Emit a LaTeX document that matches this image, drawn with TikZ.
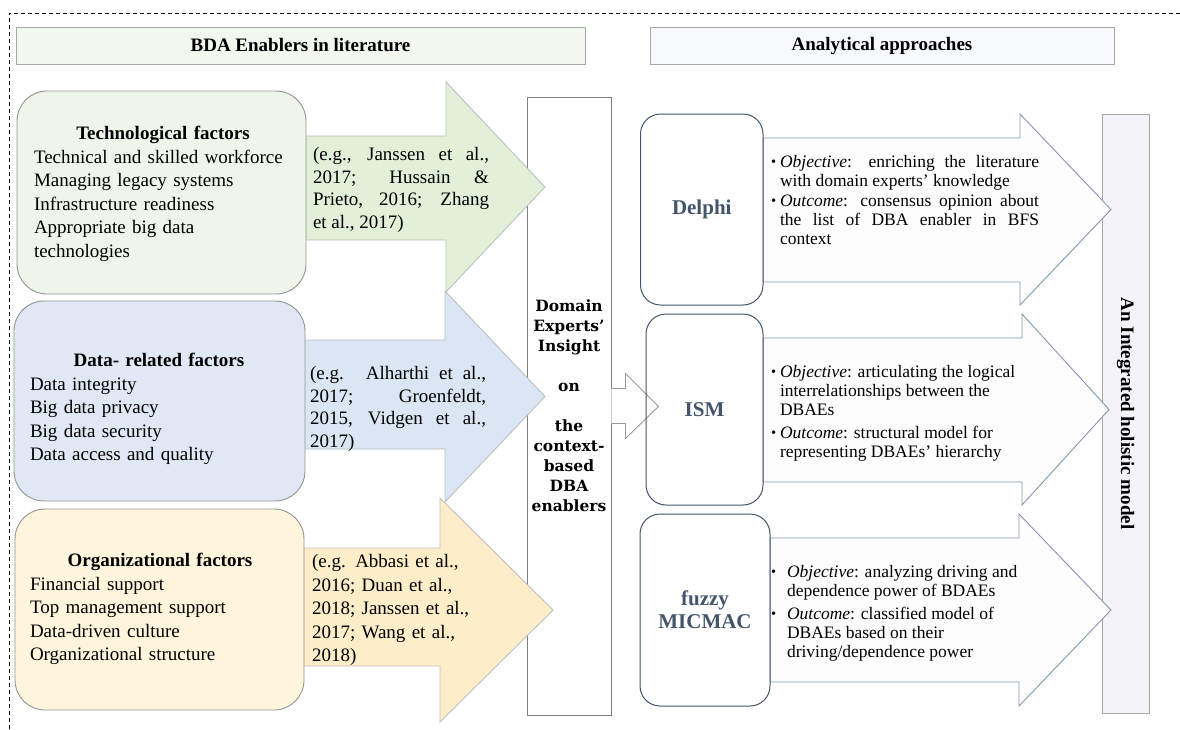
\documentclass[tikz,border=0pt]{standalone}
\usepackage{fontspec}
\setmainfont{Liberation Serif}
\newfontfamily\djserif{DejaVu Serif}
\usetikzlibrary{positioning,calc}
\definecolor{slate}{HTML}{44546A}
\definecolor{slateline}{HTML}{8497B0}
\definecolor{techfill}{HTML}{F0F5EB}
\definecolor{techarr}{HTML}{E2EFD9}
\definecolor{datafill}{HTML}{DFE8F4}
\definecolor{dataarr}{HTML}{DAE6F3}
\definecolor{orgfill}{HTML}{FEF5DC}
\definecolor{orgarr}{HTML}{FDEDC8}
\definecolor{lithdr}{HTML}{F2F7EF}
\definecolor{anahdr}{HTML}{F8F9FD}
\definecolor{integfill}{HTML}{F3F3F9}
\setlength{\parindent}{0pt}
\newcommand{\fsz}[2]{\fontsize{#1}{#2}\selectfont}
% block arrow: style, x start, x head, x tip, body top, body bottom, head top, head bottom
\newcommand{\blockarrow}[8]{\draw[#1] (#2,#5) -- (#3,#5) -- (#3,#7) -- (#4,{(#7+#8)/2}) -- (#3,#8) -- (#3,#6) -- (#2,#6) -- cycle;}
% bullet item: indent, text
\newcommand{\bul}[2]{\noindent\hangindent=#1\hangafter=1\makebox[#1][l]{\raisebox{0.5pt}{\fsz{14.5}{14}\textbullet}}#2\par}

\begin{document}
\begin{tikzpicture}[x=1pt, y=-1pt,
    frameline/.style={line width=0.8pt, dash pattern=on 4pt off 3pt},
    hdrbox/.style={draw=gray!70, line width=1pt, inner sep=0pt, font=\fsz{19}{23}\bfseries},
    factbox/.style={draw=gray!85, line width=0.9pt, rounded corners=30pt, inner sep=0pt},
    litarrow/.style={draw=gray!50, line width=0.9pt},
    listtxt/.style={inner sep=0pt, align=left, font=\fsz{19}{23.5}},
    citetxt/.style={inner sep=0pt, text width=176pt, align=justify, font=\fsz{19}{22.5}},
    midbox/.style={draw=black!50, line width=0.9pt, inner sep=0pt, align=center,
                   font=\djserif\bfseries\fsz{15.5}{20}},
    smallarr/.style={draw=gray!80, fill=white, line width=0.9pt},
    methbox/.style={draw=slate, line width=1pt, rounded corners=20pt, inner sep=0pt,
                    text=slate, font=\fsz{21}{23}\bfseries, align=center},
    apparrow/.style={draw=slateline, fill=white!98!slateline, line width=0.9pt},
    bultxt/.style={inner sep=0pt, align=justify, font=\fsz{17.5}{19}},
    integbox/.style={draw=gray!70, fill=integfill, line width=1pt, inner sep=0pt,
                     font=\fsz{19}{23}\bfseries}
]
\useasboundingbox (0,0) rectangle (1180,729);
\draw[frameline] (9,729) -- (9,13) -- (1180,13);

% headers
\node[hdrbox, fill=lithdr, minimum width=569pt, minimum height=37pt] (lit) at (300.5,45.5) {BDA Enablers in literature};
\node[hdrbox, fill=anahdr, minimum width=464pt, minimum height=37pt] (ana) at (882,45.5) {Analytical approaches};

% domain experts column
\node[midbox, minimum width=84pt, minimum height=618pt] (insight) at (569,406)
    {Domain\\Experts’\\Insight\\[20pt]on\\[20pt]the\\context-\\based\\DBA\\enablers};

% enablers from literature
\blockarrow{litarrow, fill=techarr}{200}{446}{545}{136}{240}{82}{292}
\blockarrow{litarrow, fill=dataarr}{200}{445}{545}{340}{449}{291}{502}
\blockarrow{litarrow, fill=orgarr}{200}{440}{553}{548}{666}{498}{722}

\node[factbox, fill=techfill, minimum width=289pt, minimum height=203pt] (tech) at (161.5,192.5) {};
\node[factbox, fill=datafill, minimum width=291pt, minimum height=200pt] (data) at (159.5,401) {};
\node[factbox, fill=orgfill, minimum width=289pt, minimum height=201pt] (org) at (159.5,609.5) {};

\node[listtxt, text width=258pt] (techlist) at (163,194)
    {\centering\textbf{Technological factors}\par\raggedright Technical and skilled workforce\\Managing legacy systems\\Infrastructure readiness\\Appropriate big data\\technologies};
\node[listtxt, text width=258pt] (datalist) at (159,409)
    {\centering\textbf{Data- related factors}\par\raggedright Data integrity\\Big data privacy\\Big data security\\Data access and quality};
\node[listtxt, text width=260pt] (orglist) at (160,609)
    {\centering\textbf{Organizational factors}\par\raggedright Financial support\\Top management support\\Data-driven culture\\Organizational structure};

\node[citetxt] (techcite) at (401,190)
    {(e.g., Janssen et al.,\linebreak 2017; Hussain \&\linebreak Prieto, 2016; Zhang\linebreak et al., 2017)};
\node[citetxt] (datacite) at (398,409)
    {(e.g. Alharthi et al.,\linebreak 2017; Groenfeldt,\linebreak 2015, Vidgen et al.,\linebreak 2017)};
\node[listtxt, text width=170pt] (orgcite) at (397,610)
    {(e.g. Abbasi et al.,\\2016; Duan et al.,\\2018; Janssen et al.,\\2017; Wang et al.,\\2018)};

% analytical approaches
\node[integbox, rotate=-90, minimum width=599pt, minimum height=47pt] (integ) at (1125.5,413.5) {An Integrated holistic model};

\blockarrow{apparrow}{763}{1020}{1111}{138}{282}{114}{305}
\blockarrow{apparrow}{763}{1022}{1109}{338}{482}{314}{505}
\blockarrow{apparrow}{770}{1019}{1111}{538}{682}{514}{706}

\draw[smallarr] (insight.east) ++(0,-17.5) -- ++(14,0) -- ++(0,-15) -- ++(33,33)
    -- ++(-33,32) -- ++(0,-15) -- ++(-14,0);

\node[methbox, minimum width=122.5pt, minimum height=191pt] (delphi) at (701.75,209.5) {Delphi};
\node[methbox, minimum width=117pt, minimum height=191pt] (ism) at (704.5,409.5) {ISM};
\node[methbox, minimum width=130pt, minimum height=192pt] (micmac) at (705,610) {fuzzy\\MICMAC};

\node[bultxt, text width=268pt] (delphitxt) at (905,200)
    {\bul{9pt}{\textit{Objective}: enriching the literature\linebreak with domain experts’ knowledge}\vspace{1pt}%
     \bul{9pt}{\textit{Outcome}: consensus opinion about\linebreak the list of DBA enabler in BFS\linebreak context}};
\node[bultxt, text width=254pt] (ismtxt) at (898,413)
    {\bul{9pt}{\textit{Objective}: articulating the logical\\interrelationships between the\\DBAEs}\vspace{4pt}%
     \bul{9pt}{\textit{Outcome}: structural model for\\representing DBAEs’ hierarchy}};
\node[bultxt, text width=254pt] (micmactxt) at (898,613)
    {\bul{16pt}{\textit{Objective}: analyzing driving and\\dependence power of BDAEs}\vspace{4pt}%
     \bul{16pt}{\textit{Outcome}: classified model of\\DBAEs based on their\\driving/dependence power}};
\end{tikzpicture}
\end{document}
